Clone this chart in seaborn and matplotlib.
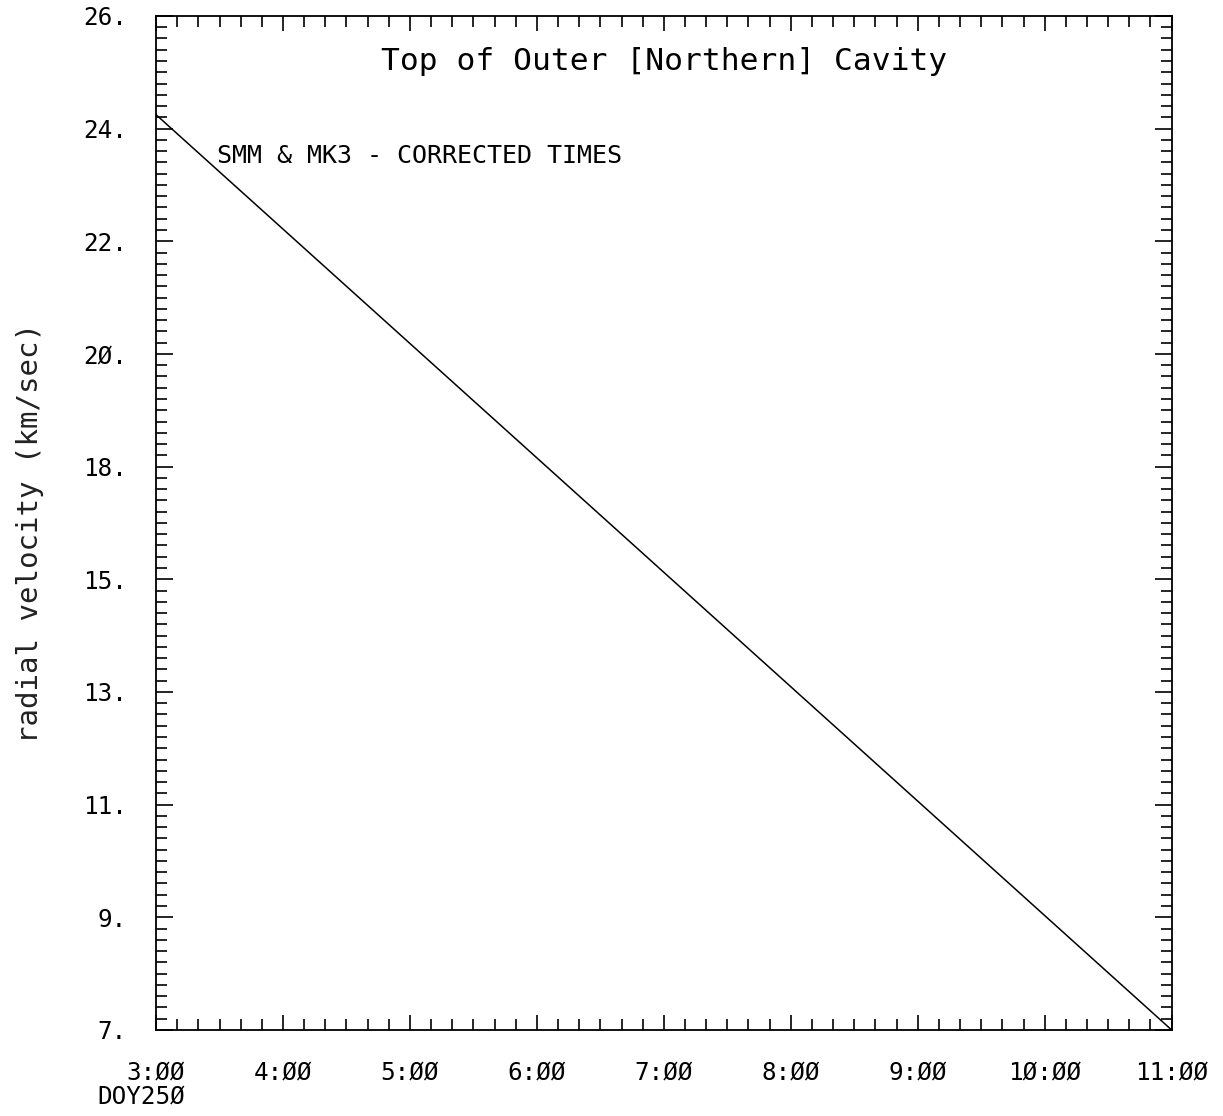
import numpy as np
import pandas as pd
import matplotlib
matplotlib.use("Agg")
import matplotlib.pyplot as plt
import seaborn as sns
from matplotlib.ticker import FixedLocator

# ---- data ----
time_hours = [3.0, 11.0]
radial_velocity = [24.15, 7.0]
x_tick_values = [3, 4, 5, 6, 7, 8, 9, 10, 11]
x_tick_labels = ["3:ØØ", "4:ØØ", "5:ØØ", "6:ØØ", "7:ØØ", "8:ØØ", "9:ØØ", "1Ø:ØØ", "11:ØØ"]
y_tick_labels = ["7.", "9.", "11.", "13.", "15.", "18.", "2Ø.", "22.", "24.", "26."]
y_min, y_max = 7.0, 26.0
title_text = "Top of Outer [Northern] Cavity"
annot_text = "SMM & MK3 - CORRECTED TIMES"
y_label = "radial velocity (km/sec)"
day_label = "DOY25Ø"

df = pd.DataFrame({"time": time_hours, "velocity": radial_velocity})

sns.set_style("ticks")
plt.rcParams["font.family"] = ["DejaVu Sans Mono", "DejaVu Sans"]

fig = plt.figure(figsize=(12.23, 11.16), dpi=100)
ax = fig.add_axes([0.1276, 0.0771, 0.8304, 0.9086])

sns.lineplot(data=df, x="time", y="velocity", ax=ax, color="black", linewidth=1.1)

ax.set_xlim(3, 11)
ax.set_ylim(y_min, y_max)

ax.xaxis.set_major_locator(FixedLocator(x_tick_values))
ax.set_xticklabels(x_tick_labels)
ax.xaxis.set_minor_locator(FixedLocator(np.arange(3, 11.0001, 1 / 6)))

y_major = np.linspace(y_min, y_max, len(y_tick_labels))
ax.yaxis.set_major_locator(FixedLocator(y_major))
ax.set_yticklabels(y_tick_labels)
ax.yaxis.set_minor_locator(FixedLocator(np.linspace(y_min, y_max, 91)))

ax.tick_params(axis="both", which="both", direction="in", top=True, right=True,
               color="black", width=1.2, labelsize=17.5, labelcolor="black")
ax.tick_params(axis="x", which="major", length=11, pad=22)
ax.tick_params(axis="x", which="minor", length=8)
ax.tick_params(axis="y", which="major", length=12, pad=21)
ax.tick_params(axis="y", which="minor", length=8)

for s in ax.spines.values():
    s.set_color("black")
    s.set_linewidth(1.3)

ax.set_xlabel("")
ax.set_ylabel(y_label, fontsize=21, color="#222222")
ax.yaxis.set_label_coords(-0.124, 0.49)
ax.yaxis.label.set_va("center")

ax.text(0.5, 0.955, title_text, transform=ax.transAxes, ha="center", va="center",
        fontsize=22.5, color="black")
ax.text(0.06, 0.862, annot_text, transform=ax.transAxes, ha="left", va="center",
        fontsize=18, color="black")
fig.text(97 / 1223, 1 - 1097 / 1116, day_label, ha="left", va="center",
         fontsize=17.5, color="black")

fig.savefig("out.png", dpi=100, facecolor="white")
